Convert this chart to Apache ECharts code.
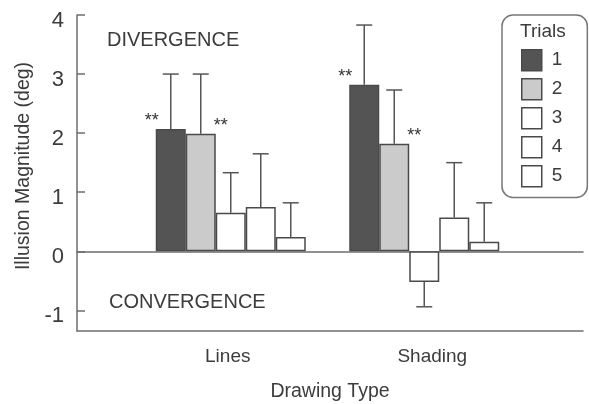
<!DOCTYPE html>
<html>
<head>
<meta charset="utf-8">
<script src="https://cdn.jsdelivr.net/npm/echarts@6/dist/echarts.min.js"></script>
<style>
  html, body { margin: 0; padding: 0; background: #fff; }
  #chart { width: 589px; height: 404px; }
</style>
</head>
<body>
<div id="chart"></div>
<script>
// drawing types on the x axis
const categories = ['Lines', 'Shading'];
const trialNames = ['1', '2', '3', '4', '5'];

// mean illusion magnitude (deg) per trial, [Lines, Shading]
const trial1 = [2.07, 2.82];
const trial2 = [1.99, 1.82];
const trial3 = [0.65, -0.52];
const trial4 = [0.75, 0.57];
const trial5 = [0.24, 0.16];

// error bar lengths (one sided, away from zero)
const err1 = [0.93, 1.01];
const err2 = [1.01, 0.91];
const err3 = [0.68, 0.42];
const err4 = [0.90, 0.93];
const err5 = [0.58, 0.66];

const yTicks = [-1, 0, 1, 2, 3, 4];

const means = [trial1, trial2, trial3, trial4, trial5];
const errs = [err1, err2, err3, err4, err5];
const fills = ['#545454', '#cbcbcb', '#ffffff', '#ffffff', '#ffffff'];

const textColor = '#3c3c3c';
const lineColor = '#6e6e6e';
const barW = 30;

const chart = echarts.init(document.getElementById('chart'));

// error bar rows: [category, trial, mean, err]
const errData = [];
means.forEach((arr, t) => {
    arr.forEach((v, c) => {
        errData.push([c, t, v, errs[t][c]]);
    });
});

const barSeries = means.map((arr, t) => ({
    name: trialNames[t],
    type: 'bar',
    xAxisIndex: 2,
    yAxisIndex: 1,
    data: arr,
    barWidth: barW,
    barGap: '0%',
    itemStyle: { color: fills[t], borderColor: '#4a4a4a', borderWidth: 1.5 },
    label: {
        show: t < 2,
        formatter: '**',
        position: t === 0 ? [-4, -8] : [barW + 5, -8],
        align: 'center',
        verticalAlign: 'middle',
        fontSize: 18,
        fontFamily: 'Liberation Sans',
        color: '#333'
    }
}));

const option = {
    animation: false,
    textStyle: { fontFamily: 'Liberation Sans' },
    title: [
        { text: 'Trials', left: 520, top: 22, padding: 0,
          textStyle: { fontSize: 19, fontWeight: 'normal', color: textColor } },
        { text: 'DIVERGENCE', left: 107, top: 30, padding: 0,
          textStyle: { fontSize: 20, fontWeight: 'normal', color: textColor } },
        { text: 'CONVERGENCE', left: 109, top: 292, padding: 0,
          textStyle: { fontSize: 20, fontWeight: 'normal', color: textColor } }
    ],
    legend: {
        data: trialNames,
        orient: 'vertical',
        left: 502,
        top: 15,
        padding: [34, 25, 10, 19],
        itemWidth: 20,
        itemHeight: 21,
        itemGap: 6.5,
        icon: 'rect',
        selectedMode: false,
        borderColor: '#777',
        borderWidth: 1.5,
        borderRadius: 11,
        itemStyle: { borderColor: '#4a4a4a', borderWidth: 1.5 },
        textStyle: { fontSize: 19, color: textColor, padding: [0, 0, 0, 5] }
    },
    grid: [
        { left: 77, right: 6, top: 15, bottom: 73, outerBoundsMode: 'none' },
        { left: 134, right: 68, top: 15, bottom: 73, outerBoundsMode: 'none' }
    ],
    xAxis: [
        {
            gridIndex: 0, type: 'value', min: 0, max: 1,
            axisLine: { onZero: false, lineStyle: { color: lineColor, width: 1.5 } },
            axisTick: { show: false }, axisLabel: { show: false }, splitLine: { show: false },
            name: 'Drawing Type', nameLocation: 'middle', nameGap: 51,
            nameTextStyle: { fontSize: 19.5, color: textColor }
        },
        {
            gridIndex: 0, type: 'value', min: 0, max: 1, position: 'bottom',
            axisLine: { onZero: true, lineStyle: { color: lineColor, width: 1.5 } },
            axisTick: { show: false }, axisLabel: { show: false }, splitLine: { show: false }
        },
        {
            gridIndex: 1, type: 'category', data: categories,
            axisLine: { show: false, onZero: false }, axisTick: { show: false },
            axisLabel: {
                margin: 16,
                formatter: v => v === 'Lines' ? '{l|' + v + '}' : '{s|' + v + '}',
                rich: {
                    l: { fontSize: 19, color: textColor, padding: [0, 6, 0, 0] },
                    s: { fontSize: 19, color: textColor, padding: [0, 0, 0, 16] }
                }
            }
        }
    ],
    yAxis: [
        {
            gridIndex: 0, type: 'value', min: -1.35, max: 4,
            axisLine: { show: true, lineStyle: { color: lineColor, width: 1.5 } },
            axisTick: { show: true, inside: true, length: 8, customValues: yTicks,
                        lineStyle: { color: lineColor, width: 1.5 } },
            axisLabel: { customValues: yTicks, margin: 13,
                         formatter: v => Number.isInteger(v) ? '{n|' + v + '}' : '',
                         rich: { n: { fontSize: 22, color: textColor, padding: [12, 0, 0, 0] } } },
            splitLine: { show: false },
            name: 'Illusion Magnitude (deg)', nameLocation: 'middle', nameGap: 42,
            nameTextStyle: { fontSize: 19.5, color: textColor, padding: [0, 0, 0, 14] }
        },
        { gridIndex: 1, type: 'value', min: -1.35, max: 4, show: false }
    ],
    series: barSeries.concat([{
        type: 'custom',
        name: 'err',
        xAxisIndex: 2,
        yAxisIndex: 1,
        z: 5,
        data: errData,
        encode: { x: 0, y: 2 },
        renderItem: (params, api) => {
            const c = api.value(0);
            const t = api.value(1);
            const m = api.value(2);
            const e = api.value(3);
            const tipVal = m >= 0 ? m + e : m - e;
            const base = api.coord([c, m]);
            const tip = api.coord([c, tipVal]);
            const x = base[0] + (t - 2) * barW;
            const style = { stroke: '#555', lineWidth: 1.5 };
            return {
                type: 'group',
                children: [
                    { type: 'line', shape: { x1: x, y1: base[1], x2: x, y2: tip[1] }, style },
                    { type: 'line', shape: { x1: x - 8, y1: tip[1], x2: x + 8, y2: tip[1] }, style }
                ]
            };
        }
    }])
};

chart.setOption(option);
</script>
</body>
</html>
